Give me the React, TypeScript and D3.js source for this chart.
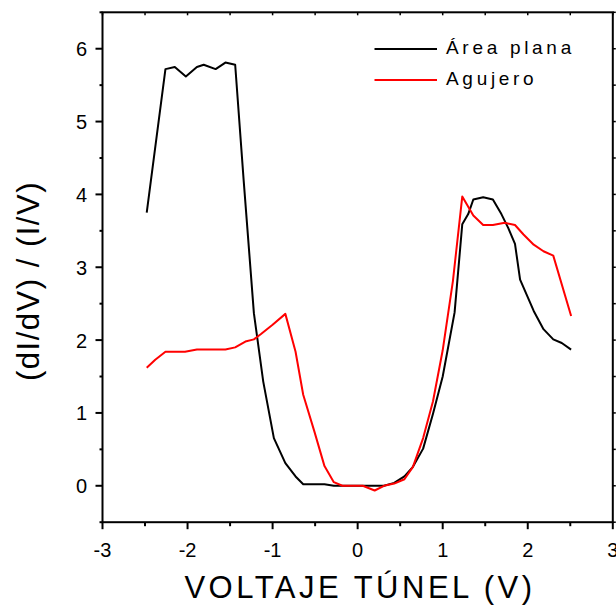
import React from "react";
import * as d3 from "d3";

const flatV = [-2.48, -2.26, -2.15, -2.02, -1.89, -1.81, -1.67, -1.555, -1.44, -1.34, -1.22, -1.11, -0.985, -0.85, -0.73, -0.64, -0.39, -0.28, 0.04, 0.31, 0.43, 0.55, 0.65, 0.77, 0.886, 1.0, 1.14, 1.23, 1.30, 1.36, 1.476, 1.59, 1.69, 1.77, 1.85, 1.91, 2.07, 2.185, 2.30, 2.40, 2.51];
const flatY = [3.75, 5.72, 5.75, 5.62, 5.75, 5.78, 5.72, 5.81, 5.78, 4.19, 2.37, 1.43, 0.655, 0.31, 0.128, 0.02, 0.02, 0, 0, 0, 0.04, 0.13, 0.26, 0.51, 0.99, 1.5, 2.38, 3.59, 3.73, 3.93, 3.96, 3.93, 3.73, 3.54, 3.32, 2.83, 2.4, 2.15, 2.01, 1.96, 1.87];

const holeV = [-2.48, -2.38, -2.26, -2.03, -1.89, -1.555, -1.44, -1.32, -1.22, -1.14, -1.0, -0.85, -0.73, -0.64, -0.51, -0.39, -0.28, -0.18, 0.06, 0.2, 0.31, 0.43, 0.55, 0.65, 0.77, 0.886, 1.0, 1.12, 1.23, 1.36, 1.476, 1.59, 1.73, 1.85, 1.95, 2.07, 2.185, 2.30, 2.51];
const holeY = [1.62, 1.73, 1.84, 1.84, 1.87, 1.87, 1.90, 1.98, 2.01, 2.08, 2.21, 2.36, 1.84, 1.25, 0.75, 0.27, 0.05, 0, 0, -0.065, 0, 0.03, 0.09, 0.26, 0.655, 1.16, 1.86, 2.81, 3.97, 3.71, 3.58, 3.58, 3.61, 3.58, 3.45, 3.31, 3.22, 3.16, 2.33];

const xTicks = [-3, -2, -1, 0, 1, 2, 3];
const yTicks = [0, 1, 2, 3, 4, 5, 6];
const seriesNames = ["Área plana", "Agujero"];
const seriesColors = ["#000000", "#ff0000"];
const xTitle = "VOLTAJE TÚNEL (V)";
const yTitle = "(dI/dV) / (I/V)";

const FONT = "'Liberation Sans', Arial, sans-serif";

export default function App() {
  const left = 102.5, right = 612.8, top = 12.3, bottom = 522.2;
  const x = d3.scaleLinear().domain([-3, 3]).range([left, right]);
  const y = d3.scaleLinear().domain([-0.5, 6.5]).range([bottom, top]);
  const line = d3.line<[number, number]>().x(d => x(d[0])).y(d => y(d[1]));
  const flat = flatV.map((v, i) => [v, flatY[i]] as [number, number]);
  const hole = holeV.map((v, i) => [v, holeY[i]] as [number, number]);
  const xMinor = d3.range(-2.5, 3, 1);
  const yMinor = d3.range(-0.5, 6.6, 1);
  const xAll = d3.range(-3, 3.01, 0.5);
  const yAll = d3.range(-0.5, 6.51, 0.5);

  return (
    <div style={{ position: "absolute", left: 0, top: 0 }}>
      <svg width={616} height={607} style={{ display: "block", background: "#fff" }}>
        {/* curves */}
        <path d={line(flat) || ""} fill="none" stroke={seriesColors[0]} strokeWidth={2} strokeLinejoin="round" />
        <path d={line(hole) || ""} fill="none" stroke={seriesColors[1]} strokeWidth={2} strokeLinejoin="round" />

        {/* frame */}
        <rect x={left} y={top} width={right - left} height={bottom - top} fill="none" stroke="#000" strokeWidth={2} />

        {/* bottom ticks */}
        {xTicks.map(t => (
          <line key={"xm" + t} x1={x(t)} x2={x(t)} y1={bottom} y2={bottom + 7} stroke="#000" strokeWidth={2} />
        ))}
        {xMinor.map(t => (
          <line key={"xn" + t} x1={x(t)} x2={x(t)} y1={bottom} y2={bottom + 4} stroke="#000" strokeWidth={2} />
        ))}
        {/* top ticks */}
        {xAll.map(t => (
          <line key={"xt" + t} x1={x(t)} x2={x(t)} y1={top} y2={top + 3} stroke="#000" strokeWidth={1.5} />
        ))}
        {/* left ticks */}
        {yTicks.map(t => (
          <line key={"ym" + t} x1={left - 7} x2={left} y1={y(t)} y2={y(t)} stroke="#000" strokeWidth={2} />
        ))}
        {yMinor.map(t => (
          <line key={"yn" + t} x1={left - 3} x2={left} y1={y(t)} y2={y(t)} stroke="#000" strokeWidth={2} />
        ))}
        {/* right ticks */}
        {yAll.map(t => (
          <line key={"yr" + t} x1={right} x2={right + 3} y1={y(t)} y2={y(t)} stroke="#000" strokeWidth={1.5} />
        ))}

        {/* tick labels */}
        {xTicks.map(t => (
          <text key={"xl" + t} x={x(t)} y={557} textAnchor="middle" fontFamily={FONT} fontSize={20} fill="#000">
            {t < 0 ? "-" + Math.abs(t) : String(t)}
          </text>
        ))}
        {yTicks.map(t => (
          <text key={"yl" + t} x={87} y={y(t) + 7.5} textAnchor="end" fontFamily={FONT} fontSize={20} fill="#000">
            {t}
          </text>
        ))}

        {/* axis titles */}
        <text x={360} y={598} textAnchor="middle" fontFamily={FONT} fontSize={31} letterSpacing={3.5} fill="#000">
          {xTitle}
        </text>
        <text transform={`translate(38.5,281) rotate(-90)`} textAnchor="middle" fontFamily={FONT} fontSize={31} letterSpacing={1.5} fill="#000">
          {yTitle}
        </text>

        {/* legend */}
        {seriesNames.map((n, i) => (
          <g key={n}>
            <line x1={374.5} x2={437} y1={49 + i * 31} y2={49 + i * 31} stroke={seriesColors[i]} strokeWidth={2} />
            <text x={446} y={53.5 + i * 31} fontFamily={FONT} fontSize={19} letterSpacing={3.7} fill="#000">
              {n}
            </text>
          </g>
        ))}
      </svg>
    </div>
  );
}
